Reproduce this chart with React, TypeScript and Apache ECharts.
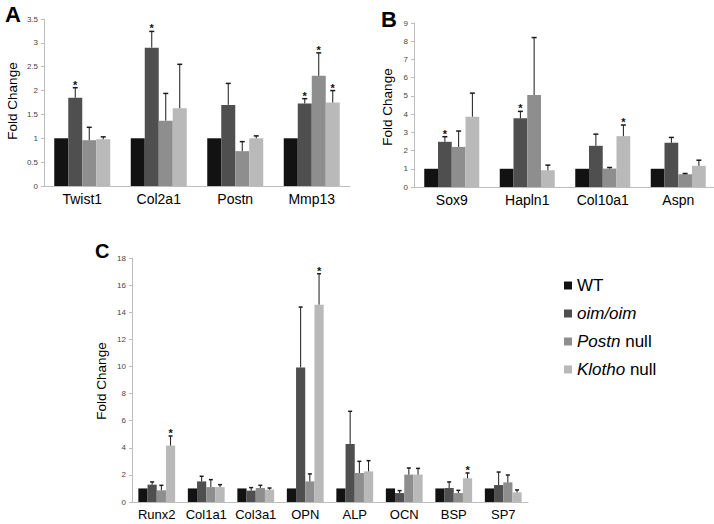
import React, { useEffect, useRef } from 'react';
import * as echarts from 'echarts';

const groupNames = ['WT', 'oim/oim', 'Postn null', 'Klotho null'];
const groupColors = ['#121212', '#4f4f4f', '#8e8e8e', '#b9b9b9'];

// Panel A
const catA = ['Twist1', 'Col2a1', 'Postn', 'Mmp13'];
const wtA = [1, 1, 1, 1];
const oimA = [1.85, 2.9, 1.7, 1.73];
const postnA = [0.96, 1.37, 0.73, 2.31];
const klothoA = [0.98, 1.63, 1.0, 1.75];
const oimErrA = [0.21, 0.34, 0.45, 0.1];
const postnErrA = [0.27, 0.57, 0.2, 0.48];
const klothoErrA = [0.05, 0.92, 0.05, 0.25];
const oimStarA = [1, 1, 0, 1];
const postnStarA = [0, 0, 0, 1];
const klothoStarA = [0, 0, 0, 1];

// Panel B
const catB = ['Sox9', 'Hapln1', 'Col10a1', 'Aspn'];
const wtB = [1, 1, 1, 1];
const oimB = [2.48, 3.77, 2.26, 2.43];
const postnB = [2.2, 5.05, 1.01, 0.7];
const klothoB = [3.86, 0.92, 2.79, 1.16];
const oimErrB = [0.28, 0.38, 0.64, 0.29];
const postnErrB = [0.87, 3.15, 0.06, 0.04];
const klothoErrB = [1.29, 0.28, 0.61, 0.31];
const oimStarB = [1, 1, 0, 0];
const postnStarB = [0, 0, 0, 0];
const klothoStarB = [0, 0, 1, 0];

// Panel C
const catC = ['Runx2', 'Col1a1', 'Col3a1', 'OPN', 'ALP', 'OCN', 'BSP', 'SP7'];
const wtC = [1, 1, 1, 1, 1, 1, 1, 1];
const oimC = [1.28, 1.52, 0.84, 9.93, 4.28, 0.66, 1.03, 1.25];
const postnC = [0.86, 1.1, 1.03, 1.52, 2.14, 2.02, 0.66, 1.45];
const klothoC = [4.16, 1.1, 0.91, 14.56, 2.26, 2.02, 1.75, 0.71];
const oimErrC = [0.2, 0.38, 0.22, 4.45, 2.41, 0.18, 0.45, 0.96];
const postnErrC = [0.37, 0.55, 0.2, 0.55, 0.86, 0.49, 0.2, 0.54];
const klothoErrC = [0.71, 0.18, 0.12, 2.28, 0.79, 0.46, 0.39, 0.18];
const oimStarC = [0, 0, 0, 0, 0, 0, 0, 0];
const postnStarC = [0, 0, 0, 0, 0, 0, 0, 0];
const klothoStarC = [1, 0, 0, 1, 0, 0, 1, 0];

const FONT = '"Liberation Sans", Arial, Helvetica, sans-serif';

type Panel = {
  cats: string[];
  vals: number[][];
  errs: (number[] | null)[];
  stars: (number[] | null)[];
  barW: number;
  cap: number;
  max: number;
  interval: number;
  labelSize: number;
};

const panels: Panel[] = [
  {
    cats: catA,
    vals: [wtA, oimA, postnA, klothoA],
    errs: [null, oimErrA, postnErrA, klothoErrA],
    stars: [null, oimStarA, postnStarA, klothoStarA],
    barW: 14,
    cap: 5,
    max: 3.5,
    interval: 0.5,
    labelSize: 14,
  },
  {
    cats: catB,
    vals: [wtB, oimB, postnB, klothoB],
    errs: [null, oimErrB, postnErrB, klothoErrB],
    stars: [null, oimStarB, postnStarB, klothoStarB],
    barW: 13.75,
    cap: 5,
    max: 9,
    interval: 1,
    labelSize: 14,
  },
  {
    cats: catC,
    vals: [wtC, oimC, postnC, klothoC],
    errs: [null, oimErrC, postnErrC, klothoErrC],
    stars: [null, oimStarC, postnStarC, klothoStarC],
    barW: 9.2,
    cap: 4,
    max: 18,
    interval: 2,
    labelSize: 13,
  },
];

const grids = [
  { left: 44, top: 19, width: 306, height: 167 },
  { left: 414, top: 23, width: 302, height: 164 },
  { left: 132, top: 258, width: 396, height: 244 },
];

function buildOption() {
  const series: any[] = [];
  panels.forEach((p, pi) => {
    p.vals.forEach((vals, g) => {
      series.push({
        type: 'bar',
        name: groupNames[g],
        xAxisIndex: pi,
        yAxisIndex: pi,
        data: vals,
        barWidth: p.barW,
        barGap: '0%',
        itemStyle: { color: groupColors[g] },
        z: 2,
      });
    });
    p.errs.forEach((errs, g) => {
      if (!errs) return;
      const stars = p.stars[g] || [];
      const vals = p.vals[g];
      series.push({
        type: 'custom',
        name: `err-${pi}-${g}`,
        xAxisIndex: pi,
        yAxisIndex: pi,
        z: 5,
        encode: { x: 0, y: 2 },
        data: vals.map((v, i) => [i, v, v + errs[i], stars[i] || 0]),
        renderItem: (params: any, api: any) => {
          const base = api.coord([api.value(0), api.value(1)]);
          const top = api.coord([api.value(0), api.value(2)]);
          const x = base[0] + (g - 1.5) * p.barW;
          const children: any[] = [
            {
              type: 'line',
              shape: { x1: x, y1: base[1], x2: x, y2: top[1] },
              style: { stroke: '#1a1a1a', lineWidth: 1 },
            },
            {
              type: 'line',
              shape: { x1: x - p.cap / 2, y1: top[1], x2: x + p.cap / 2, y2: top[1] },
              style: { stroke: '#1a1a1a', lineWidth: 1.5 },
            },
          ];
          if (api.value(3)) {
            children.push({
              type: 'text',
              x,
              y: top[1] - 3,
              style: {
                text: '*',
                fontSize: 11,
                fontWeight: 'bold',
                fontFamily: FONT,
                align: 'center',
                verticalAlign: 'middle',
                fill: '#111',
              },
            });
          }
          return { type: 'group', children };
        },
      });
    });
  });

  const legendNames: Record<string, string> = {
    WT: 'WT',
    'oim/oim': '{i|oim/oim}',
    'Postn null': '{i|Postn} null',
    'Klotho null': '{i|Klotho} null',
  };

  return {
    animation: false,
    backgroundColor: '#ffffff',
    textStyle: { fontFamily: FONT },
    grid: grids.map((g) => ({ ...g, containLabel: false, outerBoundsMode: 'none' })),
    xAxis: panels.map((p, pi) => ({
      type: 'category',
      gridIndex: pi,
      data: p.cats,
      boundaryGap: true,
      axisLine: { lineStyle: { color: '#bdbdbd', width: 1 } },
      axisTick: { show: false },
      axisLabel: { color: '#000', fontSize: p.labelSize, fontFamily: FONT, margin: 6, interval: 0 },
    })),
    yAxis: panels.map((p, pi) => ({
      type: 'value',
      gridIndex: pi,
      min: 0,
      max: p.max,
      interval: p.interval,
      axisLine: { show: true, lineStyle: { color: '#bdbdbd', width: 1 } },
      axisTick: { show: true, length: 3, lineStyle: { color: '#bdbdbd' } },
      splitLine: { show: false },
      axisLabel: { color: '#444', fontSize: 8, fontFamily: FONT, margin: 6 },
    })),
    legend: {
      orient: 'vertical',
      left: 559,
      top: 272,
      itemWidth: 8,
      itemHeight: 8,
      itemGap: 11,
      icon: 'rect',
      selectedMode: false,
      data: groupNames,
      formatter: (name: string) => legendNames[name] || name,
      textStyle: {
        fontSize: 17,
        lineHeight: 17,
        color: '#000',
        fontFamily: FONT,
        rich: {
          i: { fontSize: 17, fontStyle: 'italic', color: '#000', fontFamily: FONT },
        },
      },
    },
    graphic: [
      { type: 'text', x: 5, y: 3, style: { text: 'A', fontSize: 22, fontWeight: 'bold', fontFamily: FONT, fill: '#000' } },
      { type: 'text', x: 381, y: 8, style: { text: 'B', fontSize: 22, fontWeight: 'bold', fontFamily: FONT, fill: '#000' } },
      { type: 'text', x: 95, y: 241, style: { text: 'C', fontSize: 20, fontWeight: 'bold', fontFamily: FONT, fill: '#000' } },
      {
        type: 'text', x: 12, y: 101, rotation: Math.PI / 2,
        style: { text: 'Fold Change', fontSize: 13.5, fontFamily: FONT, fill: '#000', align: 'center', verticalAlign: 'middle' },
      },
      {
        type: 'text', x: 387, y: 107, rotation: Math.PI / 2,
        style: { text: 'Fold Change', fontSize: 13.5, fontFamily: FONT, fill: '#000', align: 'center', verticalAlign: 'middle' },
      },
      {
        type: 'text', x: 101, y: 381, rotation: Math.PI / 2,
        style: { text: 'Fold Change', fontSize: 13.5, fontFamily: FONT, fill: '#000', align: 'center', verticalAlign: 'middle' },
      },
    ],
    series,
  };
}

export default function App() {
  const ref = useRef<HTMLDivElement>(null);
  useEffect(() => {
    if (!ref.current) return;
    const chart = echarts.init(ref.current, undefined, { renderer: 'svg' });
    chart.setOption(buildOption() as any);
    return () => chart.dispose();
  }, []);
  return (
    <div
      ref={ref}
      style={{ position: 'absolute', left: 0, top: 0, width: 714, height: 524, background: '#fff' }}
    />
  );
}
